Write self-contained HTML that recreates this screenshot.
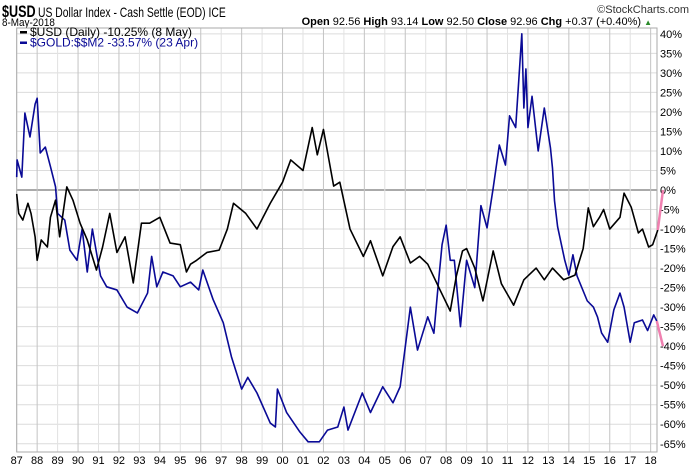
<!DOCTYPE html>
<html><head><meta charset="utf-8"><style>
body{margin:0;background:#fff;font-family:"Liberation Sans",sans-serif}
#wrap{position:relative;width:700px;height:466px;overflow:hidden}
.t{position:absolute;white-space:nowrap;color:#000}
</style></head><body>
<div id="wrap">
<div class="t" style="left:2px;top:2px;font-size:12px;transform:scaleX(0.74);transform-origin:0 0"><b style="font-size:17px">$USD</b> <span style="font-size:14px">US Dollar Index - Cash Settle (EOD) ICE</span></div>
<div class="t" style="left:2px;top:17px;font-size:11px;transform:scaleX(0.9);transform-origin:0 0">8-May-2018</div>
<div class="t" style="right:11px;top:4px;font-size:11px;color:#333">©StockCharts.com</div>
<div class="t" style="right:48px;top:16px;font-size:11px"><b>Open</b> 92.56 <b>High</b> 93.14 <b>Low</b> 92.50 <b>Close</b> 92.96 <b>Chg</b> +0.37 (+0.40%) <span style="color:#2a8a2a;font-size:8px">▲</span></div>
<svg id="svg" width="700" height="466" style="position:absolute;left:0;top:0"></svg>
</div>
<script>
const usdYears=[1987.0,1987.1,1987.3,1987.55,1987.7,1987.9,1988.0,1988.2,1988.5,1988.65,1988.9,1989.1,1989.45,1989.75,1990.1,1990.45,1990.9,1991.2,1991.55,1991.9,1992.3,1992.7,1993.1,1993.5,1994.0,1994.5,1995.0,1995.3,1995.5,1995.8,1996.3,1996.9,1997.3,1997.6,1998.2,1998.75,1999.4,2000.0,2000.4,2001.0,2001.45,2001.7,2002.0,2002.5,2002.8,2003.3,2003.95,2004.3,2004.9,2005.4,2005.75,2006.25,2006.7,2007.1,2007.7,2008.2,2008.5,2008.8,2009.0,2009.4,2009.8,2010.3,2010.7,2011.3,2011.8,2012.4,2012.8,2013.2,2013.75,2014.3,2014.7,2014.95,2015.2,2015.5,2015.7,2016.0,2016.5,2016.7,2017.05,2017.4,2017.6,2017.9,2018.1,2018.35];
const usdValues=[-1,-6,-7.7,-3.4,-6,-12,-18,-12.8,-14.6,-7,-2.6,-12,0.8,-2.6,-8.5,-12.8,-20.5,-14.6,-6,-16,-12,-23.8,-8.5,-8.5,-7,-13.6,-14,-21,-19,-18,-16,-15.4,-10,-3.4,-6,-10,-3.4,2,7.7,5,16,9,15.5,1,2,-10,-17,-13,-22,-14.5,-12,-18.7,-17,-19,-25.6,-31,-22,-15.6,-15,-20,-28.4,-15.6,-24,-29.5,-23,-20,-23,-20,-23,-21.8,-15,-4.6,-9.4,-7,-5,-10,-7,-0.8,-4.4,-11,-10,-14.6,-14,-10.25];
const goldYears=[1987.0,1987.02,1987.25,1987.4,1987.65,1987.9,1988.0,1988.15,1988.4,1988.65,1988.9,1989.0,1989.35,1989.6,1989.95,1990.2,1990.45,1990.7,1991.1,1991.4,1991.9,1992.4,1992.9,1993.4,1993.6,1993.85,1994.15,1994.65,1995.0,1995.5,1995.9,1996.1,1996.6,1997.1,1997.5,1998.0,1998.3,1998.75,1999.4,1999.65,1999.75,2000.2,2000.85,2001.25,2001.8,2002.2,2002.7,2003.0,2003.2,2003.9,2004.3,2004.9,2005.4,2005.75,2006.25,2006.6,2007.1,2007.4,2007.6,2007.8,2008.0,2008.2,2008.4,2008.7,2009.0,2009.4,2009.7,2010.0,2010.3,2010.6,2010.9,2011.1,2011.4,2011.7,2011.8,2011.9,2012.0,2012.2,2012.5,2012.8,2013.1,2013.2,2013.3,2013.45,2013.8,2014.0,2014.2,2014.4,2014.9,2015.2,2015.4,2015.6,2015.9,2016.2,2016.5,2016.7,2017.0,2017.2,2017.6,2017.85,2018.15,2018.3];
const goldValues=[3.3,7.7,3.3,19.7,13.6,22,23.5,9.5,11,6,0.8,-6,-7.7,-15.4,-18,-10,-21,-10,-22,-24.8,-25.6,-30,-31.5,-26.4,-17,-24.8,-21,-22,-24.8,-23.6,-25.6,-20.5,-28,-34,-42.7,-51,-48,-52,-59.7,-60.7,-51,-57,-62,-64.5,-64.5,-61.5,-60.7,-55.6,-61.5,-52,-57,-50.4,-54.5,-50.4,-30,-41,-32.5,-36.7,-25,-14,-9,-18,-18,-35,-18,-25,-4,-9.7,0.5,11.5,6.4,19,16,40,21,31,16,24,10,21,10.8,5.6,-2.8,-9.4,-18,-21.8,-16.6,-22,-28.4,-30,-32.5,-36.6,-39,-30.7,-26.4,-30,-39,-34,-33.3,-36,-32,-33.57];
const yTicks=[40,35,30,25,20,15,10,5,0,-5,-10,-15,-20,-25,-30,-35,-40,-45,-50,-55,-60,-65];
const xTicks=["87","88","89","90","91","92","93","94","95","96","97","98","99","00","01","02","03","04","05","06","07","08","09","10","11","12","13","14","15","16","17","18"];
const L=16.7,R=657,T=28,B=452;
const X=yr=>L+(yr-1987)*20.45;
const Y=p=>190-p*19.52/5;
const svg=document.getElementById('svg');
const NS='http://www.w3.org/2000/svg';
function mk(tag,attrs){const e=document.createElementNS(NS,tag);for(const k in attrs)e.setAttribute(k,attrs[k]);svg.appendChild(e);return e;}
yTicks.forEach(v=>{
  const l=mk('line',{x1:L,x2:R,y1:Y(v),y2:Y(v),stroke:v===0?'#555':'#dcdcdc','stroke-width':1});
  
  
  const t=mk('text',{x:R+3,y:Y(v)+4,'font-size':11,'font-family':'Liberation Sans, sans-serif',fill:'#000'});
  t.textContent=v+'%';
  
  
});
xTicks.forEach((s,i)=>{
  const x=X(1987+i);
  const l=mk('line',{x1:x,x2:x,y1:T,y2:B,stroke:i%2?'#c4c4c4':'#e2e2e2','stroke-width':1});
  
  
  const t=mk('text',{x:x,y:B+12,'font-size':11,'text-anchor':'middle','font-family':'Liberation Sans, sans-serif',fill:'#000'});
  t.textContent=s;
  
  
});
const box=mk('rect',{x:L,y:T,width:R-L,height:B-T,fill:'none',stroke:'#aaa'});


function series(xs,vs,color,name){
  const p=mk('polyline',{points:xs.map((x,i)=>X(x)+','+Y(vs[i])).join(' '),fill:'none',stroke:color,'stroke-width':1.6,'stroke-linejoin':'round'});
  
  
  return p;
}
series(goldYears,goldValues,'#0a0a96','gold-m2-line');
series(usdYears,usdValues,'#000','usd-line');
const ue=usdValues[usdValues.length-1],ge=goldValues[goldValues.length-1];
const pk1=mk('line',{x1:X(2018.35),y1:Y(ue),x2:663,y2:Y(0),stroke:'#f080b0','stroke-width':2.5});


const pk2=mk('line',{x1:X(2018.3),y1:Y(ge),x2:663,y2:Y(-40),stroke:'#f080b0','stroke-width':2.5});


const lg=[['#000','#000','$USD (Daily) -10.25% (8 May)','legend-usd'],['#0a0a96','#0a0a96','$GOLD:$$M2 -33.57% (23 Apr)','legend-gold']];
lg.forEach((e,i)=>{
  const y=35+i*10.5;
  const r=mk('rect',{x:20,y:y-4,width:7,height:2.5,fill:e[0]});
  
  
  const t=mk('text',{x:30,y:y+1,'font-size':12,fill:e[1],'font-family':'Liberation Sans, sans-serif'});
  t.textContent=e[2];
  
  
});
</script>
</body></html>
